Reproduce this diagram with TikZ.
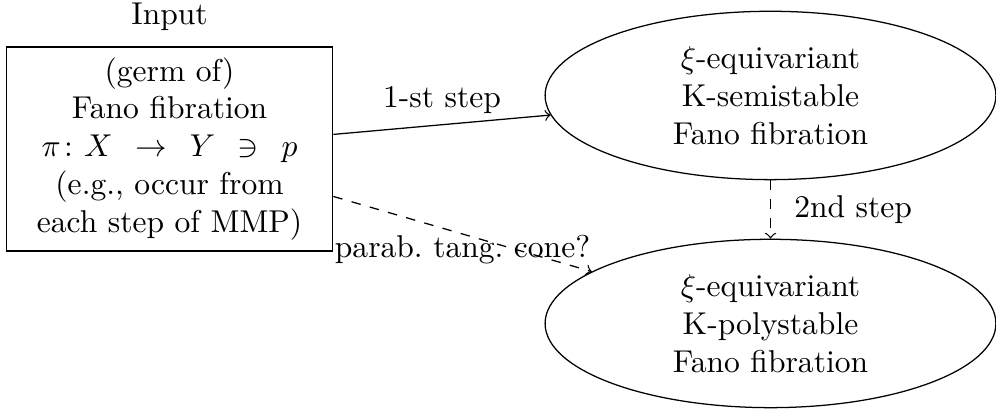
\documentclass[tikz,border=0pt]{standalone}
\usepackage{amsmath,amsfonts,amssymb}
\usepackage{tikz}
\usetikzlibrary{shapes,arrows,positioning}

\begin{document}
\begin{tikzpicture}[
    input/.style={rectangle, draw, text width=3.4cm, text centered, minimum height=2.23cm},
    fibration/.style={ellipse, draw, align=center, minimum width=5.02cm, minimum height=1.84cm},
    line/.style={draw, ->},
    guess/.style={draw, ->, dashed}
]
\useasboundingbox (0,0) rectangle (11.091,-4.566);

% Input fibration
\node [input] (germ) at (1.888,-1.659) {(germ of)\\Fano fibration\\$\pi\colon X \ \to \ Y \ \ni \ p$\\(e.g., occur from\\each step of MMP)};
\node [above=1.5pt of germ] (inputlabel) {Input};

% Output fibrations
\node [fibration] (semistable) at (8.58,-1.063) {$\xi$-equivariant\\K-semistable\\Fano fibration};
\node [fibration] (polystable) at (8.58,-3.602) {$\xi$-equivariant\\K-polystable\\Fano fibration};

% Connections
\path [line] (germ) -- node[above] {1-st step} (semistable);
\path [guess] (germ) -- node[below, yshift=3pt] {parab.\ tang.\ cone?} (polystable);
\path [guess] (semistable) -- node[right, xshift=4pt] {2nd step} (polystable);

\end{tikzpicture}
\end{document}
